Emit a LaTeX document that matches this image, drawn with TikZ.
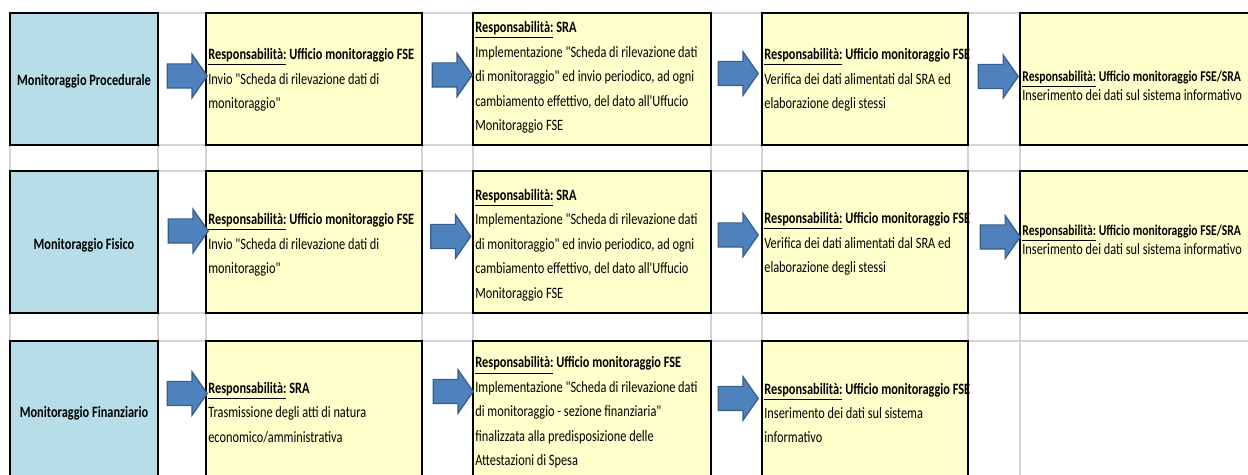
\documentclass[tikz,border=0pt]{standalone}
\usepackage{fontspec}
\setmainfont{Carlito}[FakeStretch=0.78,Ligatures=TeXOff]
\usetikzlibrary{shapes.arrows}
\definecolor{cellblue}{HTML}{B7DEE8}
\definecolor{cellyellow}{HTML}{FFFFCC}
\definecolor{gridgray}{HTML}{D4D4D4}
\definecolor{arrowfill}{HTML}{4F81BD}
\definecolor{arrowedge}{HTML}{385D8A}
\newcommand{\respof}[1]{\textbf{\underline{Responsabilità:} #1}}
\tikzset{
  bluecell/.style={draw=black,fill=cellblue,line width=1.1pt},
  yellowcell/.style={draw=black,fill=cellyellow,line width=1.1pt},
  gridline/.style={draw=gridgray,line width=0.7pt},
  labeltext/.style={font=\fontsize{9}{10}\selectfont\bfseries,align=center,
                    inner sep=0pt},
  steptext/.style={font=\fontsize{9}{13.9}\selectfont,align=left,anchor=west,
                   inner sep=0pt},
  shorttext/.style={steptext,font=\fontsize{9}{10.5}\selectfont},
  blockarr/.style={single arrow,draw=arrowedge,fill=arrowfill,line width=0.7pt,
                   minimum height=0.8cm,minimum width=0pt,inner xsep=0pt,
                   inner ysep=0.23cm,single arrow head extend=0.19cm,
                   single arrow tip angle=110}
}

\begin{document}
\begin{tikzpicture}[x=0.02cm,y=-0.02cm]
    \clip (0,0) rectangle (1248,475);

    % sheet grid
    \foreach \gx in {10,158,206,422,473,711,762,968,1020}
      \draw[gridline] (\gx,13) -- (\gx,475);
    \foreach \gy in {13,145,171,313,341}
      \draw[gridline] (10,\gy) -- (1248,\gy);

    % cells
    \foreach \ya/\yb in {13/145,171/313,341/490}
      \draw[bluecell] (10,\ya) rectangle (158,\yb);
    \foreach \ya/\yb in {13/145,171/313,341/490}{
      \draw[yellowcell] (206,\ya) rectangle (422,\yb);
      \draw[yellowcell] (473,\ya) rectangle (711,\yb);
      \draw[yellowcell] (762,\ya) rectangle (968,\yb);
    }
    \draw[yellowcell] (1020,13) rectangle (1260,145);
    \draw[yellowcell] (1020,171) rectangle (1260,313);

    % row labels
    \node[labeltext] (proc) at (84,81) {Monitoraggio Procedurale};
    \node[labeltext] (fis) at (84,245) {Monitoraggio Fisico};
    \node[labeltext] (fin) at (84,413) {Monitoraggio Finanziario};

    % procedurale
    \node[steptext] (proc1) at (208,80)
      {\respof{Ufficio monitoraggio FSE}\\Invio "Scheda di rilevazione dati di\\
       monitoraggio"};
    \node[steptext] (proc2) at (475,77.5)
      {\respof{SRA}\\Implementazione "Scheda di rilevazione dati\\
       di monitoraggio" ed invio periodico, ad ogni\\
       cambiamento effettivo, del dato all'Uffucio\\Monitoraggio FSE};
    \node[steptext] (proc3) at (764,80)
      {\respof{Ufficio monitoraggio FSE}\\Verifica dei dati alimentati dal SRA ed\\
       elaborazione degli stessi};
    \node[shorttext] (proc4) at (1022,86)
      {{\fontsize{8.5}{10.5}\selectfont\respof{Ufficio monitoraggio FSE/SRA}}\\
       Inserimento dei dati sul sistema informativo};

    % fisico
    \node[steptext] (fis1) at (208,245)
      {\respof{Ufficio monitoraggio FSE}\\Invio "Scheda di rilevazione dati di\\
       monitoraggio"};
    \node[steptext] (fis2) at (475,245)
      {\respof{SRA}\\Implementazione "Scheda di rilevazione dati\\
       di monitoraggio" ed invio periodico, ad ogni\\
       cambiamento effettivo, del dato all'Uffucio\\Monitoraggio FSE};
    \node[steptext] (fis3) at (764,244)
      {\respof{Ufficio monitoraggio FSE}\\Verifica dei dati alimentati dal SRA ed\\
       elaborazione degli stessi};
    \node[shorttext] (fis4) at (1022,240)
      {{\fontsize{8.5}{10.5}\selectfont\respof{Ufficio monitoraggio FSE/SRA}}\\
       Inserimento dei dati sul sistema informativo};

    % finanziario
    \node[steptext] (fin1) at (208,412.5)
      {\respof{SRA}\\Trasmissione degli atti di natura\\economico/amministrativa};
    \node[steptext] (fin2) at (475,412.5)
      {\respof{Ufficio monitoraggio FSE}\\Implementazione "Scheda di rilevazione dati\\
       di monitoraggio - sezione finanziaria"\\
       finalizzata alla predisposizione delle\\Attestazioni di Spesa};
    \node[steptext] (fin3) at (764,413)
      {\respof{Ufficio monitoraggio FSE}\\Inserimento dei dati sul sistema\\
       informativo};

    % block arrows
    \foreach \nm/\ax/\ay in {procarr1/183/76,procarr2/448/75,procarr3/734/73.5,
        procarr4/994/76.5,fisarr1/184/231,fisarr2/446.5/236.5,fisarr3/734/235,
        fisarr4/996/237,finarr1/183/393.5,finarr2/449/391.5,finarr3/734/398.5}
      \node[blockarr] (\nm) at (\ax,\ay) {};
  \end{tikzpicture}
\end{document}
